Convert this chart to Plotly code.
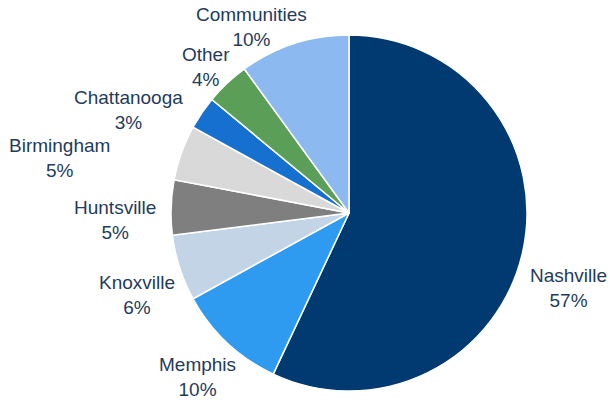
import math
import plotly.graph_objects as go

# Share of total by market
markets = ["Nashville", "Memphis", "Knoxville", "Huntsville", "Birmingham",
           "Chattanooga", "Other", "Communities"]
shares = [57, 10, 6, 5, 5, 3, 4, 10]
colors = ["#003A70", "#2E9BF0", "#C4D4E7", "#7F7F7F", "#D9D9D9",
          "#1570D0", "#5A9E58", "#8CB9F0"]

# Label nudges (px) away from the slice edge, so crowded labels stay apart
label_dx = [46, -30, -43, -56, -122, -73, -21, -42]
label_dy = [36, 34, 27, 13, 5, -3, -16, -17]

W, H = 610, 402
CX, CY, R = 349, 213, 178  # pie centre and radius in px

fig = go.Figure(go.Pie(
    labels=markets,
    values=shares,
    sort=False,
    direction="clockwise",
    rotation=0,
    marker=dict(colors=colors, line=dict(color="white", width=1.5)),
    textinfo="none",
    showlegend=False,
    hoverinfo="label+percent",
    domain=dict(x=[(CX - R) / W, (CX + R) / W],
                y=[(H - CY - R) / H, (H - CY + R) / H]),
))

# Place each label beyond the middle of its slice
total = sum(shares)
cum = 0
for name, val, dx, dy in zip(markets, shares, label_dx, label_dy):
    mid = (cum + val / 2) / total * 2 * math.pi
    cum += val
    ex = CX + R * math.sin(mid)
    ey = CY - R * math.cos(mid)
    fig.add_annotation(
        x=ex / W, y=(H - ey) / H, xref="paper", yref="paper",
        text=f"{name}<br>{val}%",
        showarrow=False, xanchor="center", yanchor="middle",
        xshift=dx, yshift=-dy,
        font=dict(family="Liberation Sans, Arial, sans-serif", size=19, color="#1F3B5E"),
    )

fig.update_layout(
    width=W, height=H,
    margin=dict(l=0, r=0, t=0, b=0),
    paper_bgcolor="white",
    plot_bgcolor="white",
)

fig.write_html("out.html")
